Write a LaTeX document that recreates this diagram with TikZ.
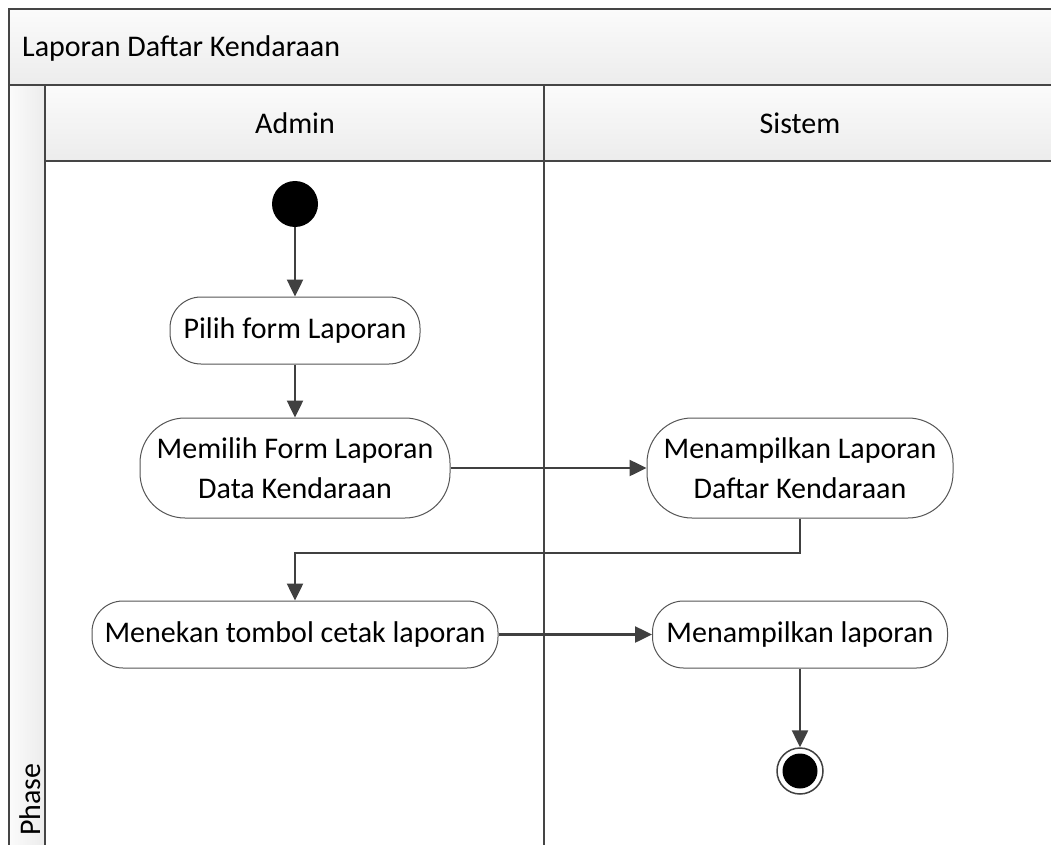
\documentclass[tikz,border=0pt]{standalone}
\usepackage{fontspec}
\setmainfont{Carlito}
\usetikzlibrary{arrows.meta}
\definecolor{lanec}{HTML}{454545}
\definecolor{boxc}{HTML}{555555}
\definecolor{arrc}{HTML}{404040}
\definecolor{bandtop}{HTML}{FBFBFB}
\definecolor{bandbot}{HTML}{ECECEC}
\begin{document}
\begin{tikzpicture}[x=1pt,y=-1pt,
  txt/.style={font=\fontsize{30}{40}\selectfont,text=black,inner sep=0pt},
  band/.style={top color=bandtop,bottom color=bandbot,draw=none},
  lane/.style={draw=lanec,line width=2pt},
  act/.style={draw=boxc,line width=1pt,fill=white,align=center,
    font=\fontsize{30}{40}\selectfont,inner sep=0pt,
    minimum height=67pt,rounded corners=31pt},
  acttwo/.style={act,minimum height=100pt,rounded corners=45pt},
  flow/.style={draw=arrc,line width=2.5pt,-{Triangle[length=17pt,width=16pt]}},
  startnode/.style={circle,fill=black,inner sep=0pt,minimum size=46pt},
  endouter/.style={circle,draw=arrc,line width=1.5pt,fill=white,inner sep=0pt,minimum size=46pt},
  endinner/.style={circle,fill=black,inner sep=0pt,minimum size=35pt}
]
\clip (0,0) rectangle (1051,845);
\fill[white] (0,0) rectangle (1051,845);
% bands
\path[band] (9,9) rectangle (1070,85);
\path[band] (45,85) rectangle (1070,161);
\path[left color=bandtop,right color=bandbot] (9,85) rectangle (45,860);
% frame lines
\draw[lane] (9,860) -- (9,9) -- (1070,9);
\draw[lane] (9,85) -- (1070,85);
\draw[lane] (45,161) -- (1070,161);
\draw[lane] (45,85) -- (45,860);
\draw[lane] (544,85) -- (544,860);
% texts
\node[txt,anchor=base west] (title) at (22,57) {Laporan Daftar Kendaraan};
\node[txt,anchor=base] (admin) at (295,134) {Admin};
\node[txt,anchor=base] (sistem) at (800,134) {Sistem};
\node[txt,rotate=90,anchor=base west] (phase) at (40,836) {Phase};
% activity nodes
\node[startnode] (start) at (295,204) {};
\node[act,minimum width=250pt] (pilih) at (295,330.5) {Pilih form Laporan};
\node[acttwo,minimum width=310pt] (memilih) at (295,468) {Memilih Form Laporan\\Data Kendaraan};
\node[acttwo,minimum width=306pt] (tampil1) at (800,468) {Menampilkan Laporan\\Daftar Kendaraan};
\node[act,minimum width=406pt] (tekan) at (295,634.5) {Menekan tombol cetak laporan};
\node[act,minimum width=295pt] (tampil2) at (800,634.5) {Menampilkan laporan};
\node[endouter] (end) at (800,771) {};
\node[endinner] (endin) at (end.center) {};
\coordinate (bend) at (295,553);
% connectors
\draw[flow] (start) -- (pilih);
\draw[flow] (pilih) -- (memilih);
\draw[flow] (memilih) -- (tampil1);
\draw[flow] (tampil1.south) |- (bend) -- (tekan.north);
\draw[flow] (tekan) -- (tampil2);
\draw[flow] (tampil2) -- (end);
\end{tikzpicture}
\end{document}
